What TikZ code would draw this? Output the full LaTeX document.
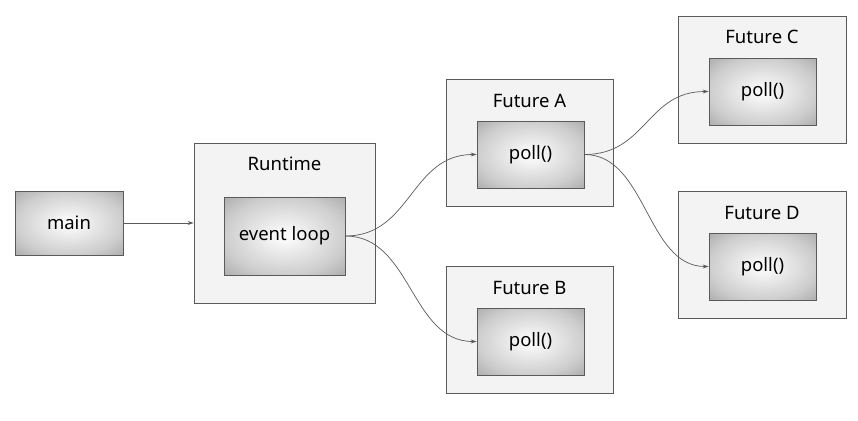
\documentclass[tikz,border=0pt]{standalone}
\usepackage{fontspec}
\setmainfont{Noto Sans}
\usetikzlibrary{arrows.meta}
\definecolor{edgec}{HTML}{5A5A5A}
\definecolor{clfill}{HTML}{F3F3F3}
\definecolor{shmid}{HTML}{CDCDCD}
\definecolor{shout}{HTML}{ADADAD}
\pgfdeclareradialshading{boxglow}{\pgfpoint{0bp}{0bp}}{color(0bp)=(white); color(25bp)=(shmid); color(35.5bp)=(shout); color(50bp)=(shout)}
\begin{document}
\begin{tikzpicture}[x=1pt,y=-1pt,
  cluster/.style={draw=edgec,fill=clfill,line width=0.9pt,inner sep=0pt},
  inner/.style={draw=edgec,line width=0.9pt,inner sep=0pt,shading=boxglow,font=\fontsize{18.5}{20}\selectfont},
  lbl/.style={inner sep=0pt,font=\fontsize{18.5}{20}\selectfont},
  conn/.style={draw=edgec,line width=0.7pt,-{Stealth[length=6pt,width=4pt]}}]
\useasboundingbox (0,0) rectangle (858,420);
\fill[white] (0,0) rectangle (858,420);
% clusters
\node[cluster,minimum width=181pt,minimum height=160pt] (rt) at (284.5,223) {};
\node[lbl] (rtl) at (284.5,164) {Runtime};
\node[cluster,minimum width=167pt,minimum height=127pt] (fa) at (529.5,142.5) {};
\node[lbl] (fal) at (529.5,101) {Future A};
\node[cluster,minimum width=167pt,minimum height=127pt] (fb) at (529.5,329.5) {};
\node[lbl] (fbl) at (529.5,288) {Future B};
\node[cluster,minimum width=168pt,minimum height=127pt] (fc) at (762,79.5) {};
\node[lbl] (fcl) at (762,37) {Future C};
\node[cluster,minimum width=168pt,minimum height=127pt] (fd) at (762,254.5) {};
\node[lbl] (fdl) at (762,213) {Future D};
% inner nodes
\node[inner,minimum width=108pt,minimum height=64pt] (main) at (69,223) {main};
\node[inner,minimum width=121pt,minimum height=78pt] (ev) at (284.5,236) {event loop};
\node[inner,minimum width=107pt,minimum height=67pt] (pa) at (530.5,154.5) {poll()};
\node[inner,minimum width=107pt,minimum height=67pt] (pb) at (530.5,341.5) {poll()};
\node[inner,minimum width=107pt,minimum height=67pt] (pc) at (762.5,91.5) {poll()};
\node[inner,minimum width=107pt,minimum height=67pt] (pd) at (762.5,266.5) {poll()};
% connectors
\draw[conn] (main.east) -- (main.east -| rt.west);
\draw[conn] (ev.east) .. controls ([xshift=66pt]ev.east) and ([xshift=-66pt]pa.west) .. (pa.west);
\draw[conn] (ev.east) .. controls ([xshift=66pt]ev.east) and ([xshift=-66pt]pb.west) .. (pb.west);
\draw[conn] (pa.east) .. controls ([xshift=62pt]pa.east) and ([xshift=-62pt]pc.west) .. (pc.west);
\draw[conn] (pa.east) .. controls ([xshift=62pt]pa.east) and ([xshift=-62pt]pd.west) .. (pd.west);
\end{tikzpicture}
\end{document}
